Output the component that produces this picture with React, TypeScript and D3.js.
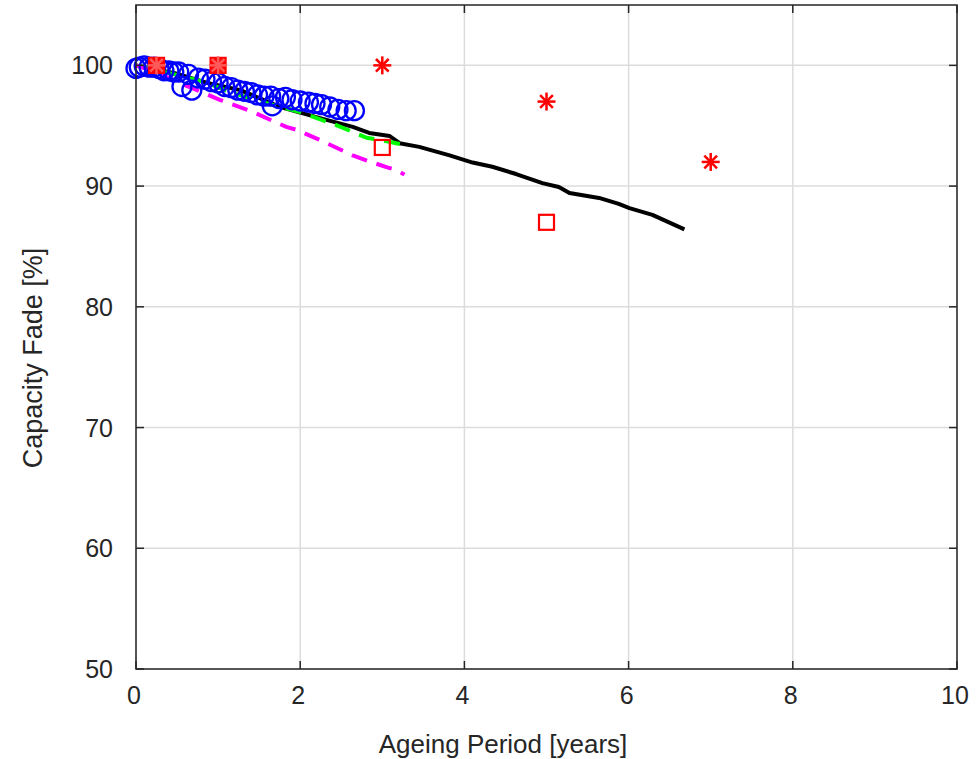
import React from "react";
import * as d3 from "d3";

// Axis ranges and ticks
const xTicks = [0, 2, 4, 6, 8, 10];
const yTicks = [50, 60, 70, 80, 90, 100];

// Simulated capacity fade (black solid line)
const modelX = [0, 0.47, 0.87, 1.27, 1.76, 2.23, 2.64, 2.84, 3.09, 3.21, 3.45, 3.82, 4.1, 4.34, 4.63, 4.95, 5.15, 5.28, 5.64, 5.88, 6.01, 6.29, 6.68];
const modelY = [100, 99.35, 98.55, 97.95, 96.55, 95.65, 94.9, 94.4, 94.15, 93.55, 93.25, 92.55, 91.95, 91.6, 91.0, 90.25, 89.92, 89.42, 89.02, 88.52, 88.18, 87.62, 86.42];

// Second model (green dashed)
const greenX = [0, 0.47, 0.87, 1.14, 1.54, 1.99, 2.44, 2.81, 2.96, 3.31];
const greenY = [100, 99.25, 98.55, 97.8, 96.95, 96.15, 95.05, 94.0, 93.85, 93.35];

// Third model (magenta dashed)
const magentaX = [0, 0.27, 0.53, 1.02, 1.42, 1.83, 1.96, 2.23, 2.64, 2.84, 3.06, 3.17, 3.27];
const magentaY = [100, 99.35, 98.55, 97.15, 96.15, 94.9, 94.65, 93.85, 92.55, 92.05, 91.55, 91.35, 90.95];

// Field measurements (blue circles)
const fieldX = [0.0, 0.04, 0.1, 0.16, 0.22, 0.28, 0.34, 0.4, 0.46, 0.52, 0.56, 0.64, 0.68, 0.76, 0.84, 0.92, 1.0, 1.08, 1.16, 1.24, 1.32, 1.4, 1.48, 1.56, 1.64, 1.66, 1.74, 1.82, 1.9, 2.0, 2.1, 2.18, 2.26, 2.36, 2.46, 2.56, 2.66];
const fieldY = [99.75, 99.85, 99.95, 99.85, 99.85, 99.75, 99.55, 99.55, 99.45, 99.45, 98.25, 99.25, 97.95, 98.95, 98.85, 98.65, 98.55, 98.25, 98.15, 97.95, 97.85, 97.75, 97.55, 97.45, 97.45, 96.65, 97.25, 97.35, 97.15, 97.05, 96.95, 96.85, 96.75, 96.55, 96.35, 96.25, 96.25];

// Manufacturer data (red stars) and lab tests (red squares)
const starX = [0.25, 1, 3, 5, 7];
const starY = [100, 100, 100, 97, 92];
const squareX = [0.25, 1, 3, 5];
const squareY = [100, 100, 93.2, 87];

const W = 976;
const H = 759;
const plot = { left: 136, right: 957, top: 5, bottom: 669 };

const x = d3.scaleLinear().domain([0, 10]).range([plot.left, plot.right]);
const y = d3.scaleLinear().domain([50, 105]).range([plot.bottom, plot.top]);

const font = "'Liberation Sans', Arial, Helvetica, sans-serif";

function pathOf(xs: number[], ys: number[]) {
  const line = d3
    .line<number>()
    .x((_, i) => x(xs[i]))
    .y((_, i) => y(ys[i]));
  return line(xs) ?? "";
}

function Star({ cx, cy, r, color }: { cx: number; cy: number; r: number; color: string }) {
  const d = r * Math.SQRT1_2;
  return (
    <g stroke={color} strokeWidth={2.5} strokeLinecap="butt">
      <line x1={cx - r} y1={cy} x2={cx + r} y2={cy} />
      <line x1={cx} y1={cy - r} x2={cx} y2={cy + r} />
      <line x1={cx - d} y1={cy - d} x2={cx + d} y2={cy + d} />
      <line x1={cx - d} y1={cy + d} x2={cx + d} y2={cy - d} />
    </g>
  );
}

export default function App() {
  const tickLen = 8;
  const axisColor = "#262626";
  const gridColor = "#dcdcdc";
  const sq = 15;
  return (
    <svg width={W} height={H} style={{ position: "absolute", left: 0, top: 0, background: "#fff" }}>
      <rect x={0} y={0} width={W} height={H} fill="#fff" />
      {/* grid */}
      <g stroke={gridColor} strokeWidth={1.5}>
        {xTicks.map((t) => (
          <line key={"gx" + t} x1={x(t)} x2={x(t)} y1={plot.top} y2={plot.bottom} />
        ))}
        {yTicks.map((t) => (
          <line key={"gy" + t} x1={plot.left} x2={plot.right} y1={y(t)} y2={y(t)} />
        ))}
      </g>

      {/* curves */}
      <path d={pathOf(modelX, modelY)} fill="none" stroke="#000" strokeWidth={4} strokeLinejoin="round" />
      <path d={pathOf(greenX, greenY)} fill="none" stroke="#00ff00" strokeWidth={4} strokeDasharray="16 10" />
      <path d={pathOf(magentaX, magentaY)} fill="none" stroke="#ff00ff" strokeWidth={4} strokeDasharray="16 10" />

      {/* field circles */}
      <g fill="none" stroke="#0000ff" strokeWidth={2.3}>
        {fieldX.map((v, i) => (
          <circle key={"c" + i} cx={x(v)} cy={y(fieldY[i])} r={9.5} />
        ))}
      </g>

      {/* lab squares */}
      <g stroke="#ff0000" strokeWidth={2.2}>
        {squareX.map((v, i) => {
          const overlap = starX.some((s, j) => s === v && starY[j] === squareY[i]);
          return (
            <rect
              key={"s" + i}
              x={x(v) - sq / 2}
              y={y(squareY[i]) - sq / 2}
              width={sq}
              height={sq}
              fill={overlap ? "#ff0000" : "none"}
            />
          );
        })}
      </g>
      {/* datasheet stars */}
      {starX.map((v, i) => {
        const overlap = squareX.some((s, j) => s === v && squareY[j] === starY[i]);
        return <Star key={"st" + i} cx={x(v)} cy={y(starY[i])} r={9} color={overlap ? "#ff5a5a" : "#ff0000"} />;
      })}

      {/* axes box */}
      <g stroke={axisColor} strokeWidth={1.5} fill="none">
        <rect x={plot.left} y={plot.top} width={plot.right - plot.left} height={plot.bottom - plot.top} />
        {xTicks.map((t) => (
          <g key={"tx" + t}>
            <line x1={x(t)} x2={x(t)} y1={plot.bottom} y2={plot.bottom - tickLen} />
            <line x1={x(t)} x2={x(t)} y1={plot.top} y2={plot.top + tickLen} />
          </g>
        ))}
        {yTicks.map((t) => (
          <g key={"ty" + t}>
            <line x1={plot.left} x2={plot.left + tickLen} y1={y(t)} y2={y(t)} />
            <line x1={plot.right} x2={plot.right - tickLen} y1={y(t)} y2={y(t)} />
          </g>
        ))}
      </g>

      {/* tick labels */}
      <g fontFamily={font} fontSize={25} fill="#262626">
        {xTicks.map((t) => (
          <text key={"lx" + t} x={x(t) - 2} y={704} textAnchor="middle">
            {t}
          </text>
        ))}
        {yTicks.map((t) => (
          <text key={"ly" + t} x={113} y={y(t) + 9} textAnchor="end">
            {t}
          </text>
        ))}
      </g>

      {/* axis titles */}
      <text x={503} y={753} textAnchor="middle" fontFamily={font} fontSize={26} fill="#262626">
        Ageing Period [years]
      </text>
      <text
        transform={`translate(42, 358) rotate(-90)`}
        textAnchor="middle"
        fontFamily={font}
        fontSize={27}
        fill="#262626"
      >
        Capacity Fade [%]
      </text>
    </svg>
  );
}
